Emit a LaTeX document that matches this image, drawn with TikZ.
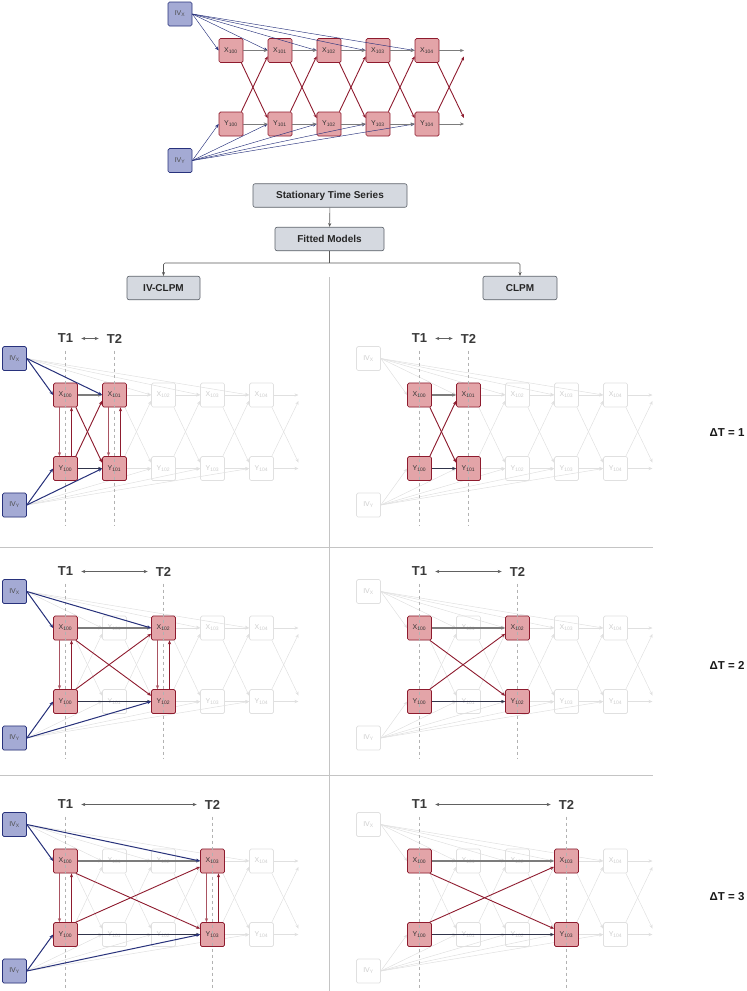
\documentclass[tikz,border=0pt]{standalone}
\usepackage{fontspec}
\setmainfont{Liberation Sans}
\usetikzlibrary{arrows.meta,positioning}

\definecolor{varfill}{HTML}{E3A4A8}
\definecolor{vardraw}{HTML}{8E1B2E}
\definecolor{ivfill}{HTML}{A4AAD4}
\definecolor{ivdraw}{HTML}{28327C}
\definecolor{modelfill}{HTML}{D5D9E0}
\definecolor{modeldraw}{HTML}{5B6068}
\definecolor{paledraw}{HTML}{E0E0E0}
\definecolor{paletext}{HTML}{CDCDCD}
\definecolor{lagdraw}{HTML}{7C7C7C}
\definecolor{darklag}{HTML}{30344A}
\definecolor{tgray}{HTML}{3A3A3A}
\definecolor{rulegray}{HTML}{C4C4C4}

% whole network, #1 = prefix, #2 = full or faint
\newcommand{\crossnet}[2]{
  \node[#2 iv] (#1ivx) at (0,0) {IV\textsubscript{X}};
  \node[#2 iv] (#1ivy) at (0,146.5) {IV\textsubscript{Y}};
  \foreach \i in {0,...,4} {
    \node[#2 var] (#1x\i) at (51+49*\i,36.5) {X\textsubscript{10\i}};
    \node[#2 var] (#1y\i) at (51+49*\i,110) {Y\textsubscript{10\i}};
    \draw[#2 ivpath] (#1ivx.east) -- (#1x\i.west);
    \draw[#2 ivpath] (#1ivy.east) -- (#1y\i.west);
  }
  \foreach \i/\j in {0/1,1/2,2/3,3/4} {
    \draw[#2 lag] (#1x\i) -- (#1x\j);
    \draw[#2 lag] (#1y\i) -- (#1y\j);
    \draw[#2 cross] (#1x\i.-50) -- (#1y\j.155);
    \draw[#2 cross] (#1y\i.50) -- (#1x\j.205);
  }
  \coordinate (#1xend) at (284,36.5);
  \coordinate (#1yend) at (284,110);
  \coordinate (#1xendc) at (284,42.5);
  \coordinate (#1yendc) at (284,104);
  \draw[#2 lag] (#1x4) -- (#1xend);
  \draw[#2 lag] (#1y4) -- (#1yend);
  \draw[#2 cross] (#1x4.-50) -- (#1yendc);
  \draw[#2 cross] (#1y4.50) -- (#1xendc);
}

% the two waves that are fitted, #2 = index of T2
\newcommand{\focuspair}[2]{
  \node[full var] (#1a) at (#1x0) {X\textsubscript{100}};
  \node[full var] (#1b) at (#1y0) {Y\textsubscript{100}};
  \node[full var] (#1c) at (#1x#2) {X\textsubscript{10#2}};
  \node[full var] (#1d) at (#1y#2) {Y\textsubscript{10#2}};
  \draw[focus lag] (#1a) -- (#1c);
  \draw[focus lag, draw=darklag] (#1b) -- (#1d);
  \draw[full cross] (#1a.-50) -- (#1d.155);
  \draw[full cross] (#1b.50) -- (#1c.205);
  \node[tlabel] (#1t1) at (51,-20) {T1};
  \node[tlabel] (#1t2) at (51+49*#2,-20) {T2};
  \draw[span] (#1t1) -- (#1t2);
  \draw[guide] (51,-8) -- (51,167);
  \draw[guide] (51+49*#2,-8) -- (51+49*#2,167);
}

% instruments and within-wave paths
\newcommand{\ivfocus}[1]{
  \node[full iv] (#1p) at (#1ivx) {IV\textsubscript{X}};
  \node[full iv] (#1q) at (#1ivy) {IV\textsubscript{Y}};
  \draw[focus ivpath] (#1p.east) -- (#1a.west);
  \draw[focus ivpath] (#1p.east) -- (#1c.west);
  \draw[focus ivpath] (#1q.east) -- (#1b.west);
  \draw[focus ivpath] (#1q.east) -- (#1d.west);
  \draw[focus vert, draw=vardraw!75] ([xshift=-6pt]#1a.south) -- ([xshift=-6pt]#1b.north);
  \draw[focus vert] ([xshift=6pt]#1b.north) -- ([xshift=6pt]#1a.south);
  \draw[focus vert, draw=vardraw!75] ([xshift=-6pt]#1c.south) -- ([xshift=-6pt]#1d.north);
  \draw[focus vert] ([xshift=6pt]#1d.north) -- ([xshift=6pt]#1c.south);
}

\begin{document}
\begin{tikzpicture}[x=1pt, y=-1pt, >={Stealth[length=4pt,width=3.2pt]},
  netbox/.style={draw, rounded corners=1.5pt, minimum width=24pt, minimum height=24pt,
    inner sep=0pt, line width=0.7pt, font=\fontsize{7}{8}\selectfont},
  full var/.style={netbox, fill=varfill, draw=vardraw, text=black!80},
  faint var/.style={netbox, fill=white, draw=paledraw, text=paletext},
  full iv/.style={netbox, fill=ivfill, draw=ivdraw, text=black!70},
  faint iv/.style={netbox, fill=white, draw=paledraw, text=paletext},
  full lag/.style={->, draw=lagdraw, line width=0.5pt},
  faint lag/.style={->, draw=paledraw, line width=0.5pt},
  full cross/.style={->, draw=vardraw, line width=0.9pt},
  faint cross/.style={->, draw=paledraw, line width=0.5pt},
  full ivpath/.style={->, draw=ivdraw, line width=0.45pt},
  faint ivpath/.style={->, draw=paledraw, line width=0.5pt},
  focus lag/.style={->, draw=lagdraw, line width=1.1pt},
  focus ivpath/.style={->, draw=ivdraw, line width=1pt},
  focus vert/.style={->, draw=vardraw, line width=0.9pt},
  tlabel/.style={font=\fontsize{13}{14}\selectfont\bfseries, text=tgray, inner sep=0pt},
  span/.style={<->, draw=tgray!80, line width=0.5pt, shorten <=8pt, shorten >=8pt},
  guide/.style={draw=black!30, dashed, line width=0.4pt},
  model/.style={draw=modeldraw, fill=modelfill, rounded corners=2pt, line width=0.6pt,
    minimum height=23.5pt, font=\fontsize{10}{12}\selectfont\bfseries, text=black!85},
  split path/.style={draw=black!65, line width=0.6pt, rounded corners=1.5pt},
  sepline/.style={draw=rulegray, line width=0.8pt},
  dtlabel/.style={font=\fontsize{11.5}{13}\selectfont\bfseries, text=black!90}]

  \useasboundingbox (0,0) rectangle (747,991);

  \begin{scope}[shift={(180,14)}]
    \crossnet{top}{full}
  \end{scope}

  \node[model, minimum width=154pt] (series) at (330,195.5) {Stationary Time Series};
  \node[model, minimum width=109pt] (fitted) at (329.5,239) {Fitted Models};
  \node[model, minimum width=73pt] (ivclpm) at (163.5,288) {IV-CLPM};
  \node[model, minimum width=74pt] (clpm) at (520,288) {CLPM};
  \coordinate (split) at (329.5,263);
  \draw[split path, ->] (series) -- (fitted);
  \draw[split path] (fitted) -- (split);
  \draw[split path, ->] (split) -| (ivclpm);
  \draw[split path, ->] (split) -| (clpm);

  \draw[sepline] (329.5,277) -- (329.5,991);
  \draw[sepline] (0,547) -- (653,547);
  \draw[sepline] (0,775) -- (653,775);

  % delta T = 1
  \begin{scope}[shift={(14.5,358.5)}]
    \crossnet{la}{faint}
    \focuspair{la}{1}
    \ivfocus{la}
  \end{scope}
  \begin{scope}[shift={(368.5,358.5)}]
    \crossnet{ra}{faint}
    \focuspair{ra}{1}
  \end{scope}
  \node[dtlabel] (dta) at (727,433) {ΔT = 1};

  % delta T = 2
  \begin{scope}[shift={(14.5,591.5)}]
    \crossnet{lb}{faint}
    \focuspair{lb}{2}
    \ivfocus{lb}
  \end{scope}
  \begin{scope}[shift={(368.5,591.5)}]
    \crossnet{rb}{faint}
    \focuspair{rb}{2}
  \end{scope}
  \node[dtlabel] (dtb) at (727,665) {ΔT = 2};

  % delta T = 3
  \begin{scope}[shift={(14.5,824.5)}]
    \crossnet{lc}{faint}
    \focuspair{lc}{3}
    \ivfocus{lc}
  \end{scope}
  \begin{scope}[shift={(368.5,824.5)}]
    \crossnet{rc}{faint}
    \focuspair{rc}{3}
  \end{scope}
  \node[dtlabel] (dtc) at (727,897) {ΔT = 3};
\end{tikzpicture}
\end{document}
